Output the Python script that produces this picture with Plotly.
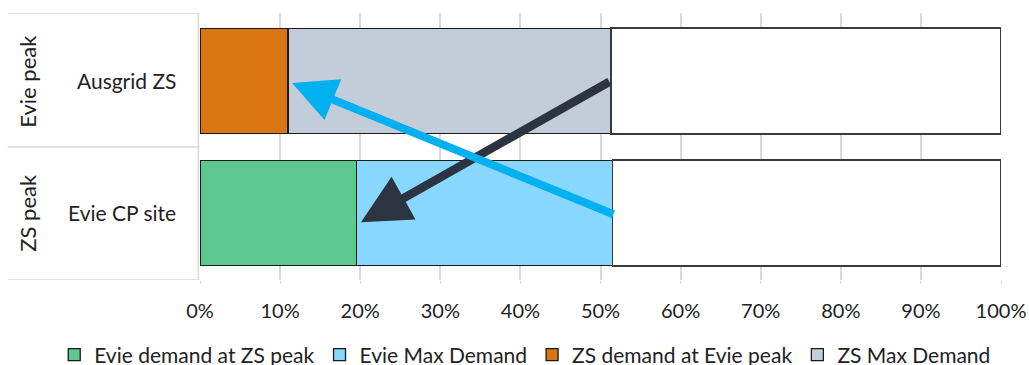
import plotly.graph_objects as go

# Rows (bottom to top) and the peak each row is measured at
sites = ["Evie CP site", "Ausgrid ZS"]
peak_groups = ["ZS peak", "Evie peak"]

# Shares of the 100% scale, per row (None where a series does not apply)
evie_at_zs_peak = [19.5, None]
evie_max_extra = [32.0, None]
zs_at_evie_peak = [None, 11.0]
zs_max_extra = [None, 40.3]

series_names = ["Evie demand at ZS peak", "Evie Max Demand",
                "ZS demand at Evie peak", "ZS Max Demand"]
series_values = [evie_at_zs_peak, evie_max_extra, zs_at_evie_peak, zs_max_extra]
series_colors = ["#5FC88F", "#87D7FE", "#D97511", "#C3CDD9"]

tick_vals = list(range(0, 101, 10))
tick_text = [f"{v}%" for v in tick_vals]

FONT = "Lato"
TXT = "#222222"
ypos = [0, 1]

fig = go.Figure()
for i, (name, vals, col) in enumerate(zip(series_names, series_values, series_colors)):
    fig.add_trace(go.Bar(
        y=ypos, x=vals, name=name, orientation="h", width=0.8,
        legendgroup=f"g{i}",
        marker=dict(color=col, line=dict(color="#1A1A1A", width=1.3)),
    ))

# Remaining headroom up to 100%
totals = [sum(v[i] or 0 for v in series_values) for i in range(len(sites))]
remainder = [100 - t for t in totals]
fig.add_trace(go.Bar(
    y=ypos, x=remainder, orientation="h", width=0.8, showlegend=False,
    marker=dict(color="white", line=dict(color="#3A3A3A", width=1.6)),
    hoverinfo="skip",
))

annotations = []
# Site labels
for yy, s in zip(ypos, sites):
    annotations.append(dict(xref="paper", yref="y", x=-0.028, y=yy, text=s,
                            showarrow=False, xanchor="right",
                            font=dict(family=FONT, size=21, color=TXT)))
# Peak group labels (rotated)
for yy, g in zip(ypos, peak_groups):
    annotations.append(dict(xref="paper", yref="y", x=-0.215, y=yy, text=g,
                            showarrow=False, textangle=-90,
                            xanchor="center", yanchor="middle",
                            font=dict(family=FONT, size=22, color=TXT)))

# Arrows linking each row's maximum to the other row's demand at peak
evie_total = totals[0]
zs_total = totals[1]
annotations.append(dict(
    xref="x", yref="y", axref="x", ayref="y",
    x=evie_at_zs_peak[0] + 0.6, y=-0.07, ax=zs_total, ay=1.0,
    text="", showarrow=True, arrowhead=2, arrowsize=1.15, arrowwidth=8.5,
    arrowcolor="#2B3440", standoff=0, startstandoff=0))
annotations.append(dict(
    xref="x", yref="y", axref="x", ayref="y",
    x=zs_at_evie_peak[1] + 0.5, y=0.985, ax=evie_total + 0.3, ay=-0.015,
    text="", showarrow=True, arrowhead=2, arrowsize=1.1, arrowwidth=8,
    arrowcolor="#00B0F0", standoff=0, startstandoff=0))

# Category-axis divider lines
Y_LO, Y_HI = -0.508, 1.515
line_col = "#D9D9D9"
shapes = []
for yy in [Y_LO, 0.5, Y_HI]:
    shapes.append(dict(type="line", xref="paper", yref="y", x0=-0.24, x1=0,
                       y0=yy, y1=yy, line=dict(color=line_col, width=1.5)))
shapes.append(dict(type="line", xref="paper", yref="paper", x0=-0.002, x1=-0.002,
                   y0=0, y1=1, line=dict(color=line_col, width=1.5)))

fig.update_layout(
    width=1029, height=365,
    margin=dict(l=200, r=28, t=13, b=85, autoexpand=False),
    barmode="stack", bargap=0.2,
    plot_bgcolor="white", paper_bgcolor="white",
    font=dict(family=FONT, size=21, color=TXT),
    xaxis=dict(range=[0, 100], tickvals=tick_vals, ticktext=tick_text,
               showgrid=True, gridcolor="#D9D9D9", gridwidth=1.5,
               zeroline=False, showline=False, ticks="outside", ticklen=3,
               tickcolor="#D9D9D9", tickfont=dict(size=20, family=FONT, color=TXT),
               ticklabelstandoff=10, automargin=False),
    yaxis=dict(range=[Y_LO, Y_HI], showticklabels=False, showgrid=False,
               zeroline=False, showline=False, automargin=False),
    legend=dict(orientation="h", x=-0.182, xanchor="left", xref="paper",
                y=-0.281, yanchor="middle", yref="paper",
                font=dict(family=FONT, size=21, color=TXT),
                traceorder="normal", itemwidth=30, tracegroupgap=10),
    annotations=annotations,
    shapes=shapes,
    showlegend=True,
)

fig.write_html("out.html")
